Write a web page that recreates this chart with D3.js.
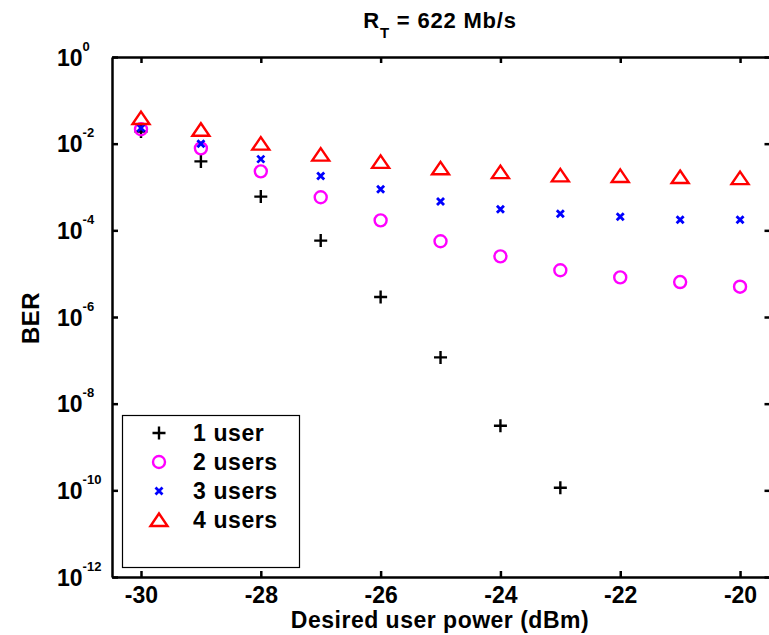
<!DOCTYPE html>
<html>
<head>
<meta charset="utf-8">
<script src="https://cdn.jsdelivr.net/npm/d3@7"></script>
<style>
  body { margin: 0; background: #fff; }
  svg text { font-family: "Liberation Sans", Arial, sans-serif; font-weight: bold; fill: #000; }
</style>
</head>
<body>
<script>
// ---------- data ----------
var power = [-30, -29, -28, -27, -26, -25, -24, -23, -22, -21, -20];
var ber1user = [1.9e-2, 3.9e-3, 6.0e-4, 5.8e-5, 2.9e-6, 1.17e-7, 3.1e-9, 1.15e-10];
var ber2users = [2.15e-2, 7.8e-3, 2.3e-3, 5.8e-4, 1.7e-4, 5.6e-5, 2.5e-5, 1.2e-5, 8.2e-6, 6.4e-6, 5.0e-6];
var ber3users = [2.3e-2, 1.0e-2, 4.4e-3, 1.8e-3, 8.9e-4, 4.6e-4, 3.05e-4, 2.4e-4, 2.05e-4, 1.75e-4, 1.75e-4];
var ber4users = [3.9e-2, 2.1e-2, 1.0e-2, 5.6e-3, 3.8e-3, 2.7e-3, 2.2e-3, 1.85e-3, 1.8e-3, 1.7e-3, 1.6e-3];
var seriesNames = ["1 user", "2 users", "3 users", "4 users"];
var xTicks = [-30, -28, -26, -24, -22, -20];
var yExponents = [0, -2, -4, -6, -8, -10, -12];

// marker shapes, one per series
var markers = {
  plus: "M-6.5,0H6.5M0,-6.5V6.5",
  cross: "M-3.5,-3.5L3.5,3.5M3.5,-3.5L-3.5,3.5",
  triangle: "M0,-6.5L8.5,6L-8.5,6Z"
};

var series = [
  {name: seriesNames[0], values: ber1user, color: "#000000", shape: "plus", sw: 2.4},
  {name: seriesNames[1], values: ber2users, color: "#ff00ff", shape: "circle", sw: 2.4},
  {name: seriesNames[2], values: ber3users, color: "#0000ff", shape: "cross", sw: 2.8},
  {name: seriesNames[3], values: ber4users, color: "#ff0000", shape: "triangle", sw: 2.4}
];

// ---------- layout ----------
var W = 769, H = 635;
var margin = {top: 57, right: -1, bottom: 58, left: 112},
    width = W - margin.left - margin.right,
    height = H - margin.top - margin.bottom;

var svg = d3.select("body").append("svg")
    .attr("width", W)
    .attr("height", H);

var g = svg.append("g")
    .attr("transform", "translate(" + margin.left + "," + margin.top + ")");

var x = d3.scaleLinear().domain([-30.484, -19.5]).range([0, width]);
var y = d3.scaleLog().domain([1, 1e-12]).range([0, height]);

// draw a marker of a series at a point
function drawMarker(sel, s) {
  if (s.shape === "circle") {
    sel.append("circle").attr("r", 6)
      .attr("fill", "none").attr("stroke", s.color).attr("stroke-width", s.sw);
  } else {
    sel.append("path").attr("d", markers[s.shape])
      .attr("fill", "none").attr("stroke", s.color).attr("stroke-width", s.sw);
  }
}

// ---------- axes ----------
function styleAxis(a) {
  a.select(".domain").attr("stroke", "#000").attr("stroke-width", 2.5);
  a.selectAll(".tick line").attr("stroke", "#000").attr("stroke-width", 2.5);
}

var yTickVals = yExponents.map(function(e) { return Math.pow(10, e); });

var xAxisB = g.append("g")
    .attr("transform", "translate(0," + height + ")")
    .call(d3.axisBottom(x).tickValues(xTicks).tickSizeInner(-6).tickSizeOuter(0)
      .tickPadding(10).tickFormat(function(d) { return d; }));
xAxisB.selectAll("text").attr("font-size", 23).attr("font-family", null);
styleAxis(xAxisB);

var xAxisT = g.append("g")
    .call(d3.axisTop(x).tickValues(xTicks).tickSizeInner(-6).tickSizeOuter(0).tickFormat(""));
styleAxis(xAxisT);

var yAxisR = g.append("g")
    .attr("transform", "translate(" + (width + 1.5) + ",0)")
    .call(d3.axisRight(y).tickValues(yTickVals).tickSizeInner(-7).tickSizeOuter(0).tickFormat(""));
styleAxis(yAxisR);
yAxisR.select(".domain").attr("stroke", "#e6e6e6").attr("stroke-width", 1);

var yAxisL = g.append("g")
    .call(d3.axisLeft(y).tickValues(yTickVals).tickSizeInner(-6).tickSizeOuter(0).tickFormat(""));
styleAxis(yAxisL);

// log tick labels as 10 with a raised exponent
yAxisL.selectAll(".tick").each(function(d, i) {
  var t = d3.select(this).append("text")
      .attr("x", -55)
      .attr("y", 8)
      .attr("text-anchor", "start")
      .attr("font-size", 23);
  t.append("tspan").text("10");
  t.append("tspan").attr("dy", -15).attr("font-size", 13).text(yExponents[i]);
});

// ---------- points ----------
series.forEach(function(s) {
  g.append("g").selectAll("g")
    .data(s.values)
    .enter().append("g")
      .attr("transform", function(d, i) {
        return "translate(" + x(power[i]) + "," + y(d) + ")";
      })
      .each(function() { drawMarker(d3.select(this), s); });
});

// ---------- legend ----------
var legend = svg.append("g");
legend.append("rect")
    .attr("x", 122.5).attr("y", 415.5)
    .attr("width", 177).attr("height", 152)
    .attr("fill", "#fff").attr("stroke", "#000").attr("stroke-width", 1.2);

var rowY = [433, 462, 491, 520];
series.forEach(function(s, i) {
  var row = legend.append("g").attr("transform", "translate(0," + rowY[i] + ")");
  var m = row.append("g").attr("transform", "translate(159,0)");
  drawMarker(m, s);
  row.append("text")
    .attr("x", 193).attr("y", 8)
    .attr("font-size", 23)
    .attr("letter-spacing", 0.6)
    .text(s.name);
});

// ---------- titles ----------
var title = svg.append("text")
    .attr("x", 440).attr("y", 28)
    .attr("text-anchor", "middle")
    .attr("font-size", 22)
    .attr("letter-spacing", 0.8);
title.append("tspan").text("R");
title.append("tspan").attr("dy", 10).attr("font-size", 15).text("T");
title.append("tspan").attr("dy", -10).text(" = 622 Mb/s");

svg.append("text")
    .attr("x", 440).attr("y", 628)
    .attr("text-anchor", "middle")
    .attr("font-size", 23)
    .attr("letter-spacing", 0.5)
    .text("Desired user power (dBm)");

svg.append("text")
    .attr("transform", "translate(39,318) rotate(-90)")
    .attr("text-anchor", "middle")
    .attr("font-size", 24)
    .attr("letter-spacing", 0.5)
    .text("BER");
</script>
</body>
</html>
